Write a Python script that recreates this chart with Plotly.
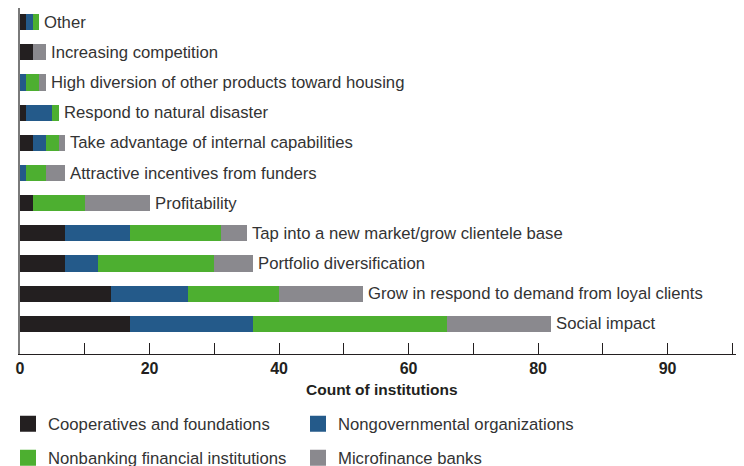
import plotly.graph_objects as go

categories = [
    "Social impact",
    "Grow in respond to demand from loyal clients",
    "Portfolio diversification",
    "Tap into a new market/grow clientele base",
    "Profitability",
    "Attractive incentives from funders",
    "Take advantage of internal capabilities",
    "Respond to natural disaster",
    "High diversion of other products toward housing",
    "Increasing competition",
    "Other",
]

cooperatives = [17, 14, 7, 7, 2, 0, 2, 1, 0, 2, 1]
ngos = [19, 12, 5, 10, 0, 1, 2, 4, 1, 0, 1]
nonbanking = [30, 14, 18, 14, 8, 3, 2, 1, 2, 0, 1]
microfinance = [16, 13, 6, 4, 10, 3, 1, 0, 1, 2, 0]

series = [
    ("Cooperatives and foundations", cooperatives, "#231f20", "legend"),
    ("Nongovernmental organizations", ngos, "#245a8a", "legend"),
    ("Nonbanking financial institutions", nonbanking, "#4daf30", "legend2"),
    ("Microfinance banks", microfinance, "#8a898e", "legend2"),
]

tick_vals = [0, 10, 20, 30, 40, 50, 60, 70, 80, 90, 100, 110]
tick_text = ["0", "", "20", "", "40", "", "60", "", "80", "", "90", ""]

FONT = "Liberation Sans, Arial, Helvetica, sans-serif"
TXT = "#333333"

# page body has an 8px default margin, so the figure is 8px smaller each way
W, H = 736, 458

fig = go.Figure()
for name, vals, color, lg in series:
    fig.add_trace(go.Bar(
        x=vals, y=categories, orientation="h", name=name,
        marker=dict(color=color, line=dict(width=0)),
        showlegend=False, hoverinfo="x+y+name",
    ))
# legend entries (square swatches)
for name, vals, color, lg in series:
    fig.add_trace(go.Scatter(
        x=[None], y=[None], mode="markers", name=name,
        marker=dict(symbol="square", size=16, color=color, line=dict(width=0)),
        legend=lg, showlegend=True,
    ))

totals = [a + b + c + d for a, b, c, d in zip(cooperatives, ngos, nonbanking, microfinance)]
for cat, tot in zip(categories, totals):
    fig.add_annotation(
        x=tot, y=cat, xref="x", yref="y", text=cat, showarrow=False,
        xanchor="left", yanchor="middle", xshift=3,
        font=dict(family=FONT, size=16.7, color=TXT),
    )

fig.add_annotation(
    x=0.5, y=0, xref="paper", yref="paper",
    text="<b>Count of institutions</b>", showarrow=False,
    xanchor="center", yanchor="middle", yshift=-35,
    font=dict(family=FONT, size=15.5, color="#231f20"),
)

legend_common = dict(
    orientation="h", xref="container", yref="container",
    xanchor="left", yanchor="middle", traceorder="normal",
    font=dict(family=FONT, size=16.7, color=TXT),
    entrywidth=245, entrywidthmode="pixels",
    bgcolor="rgba(0,0,0,0)", borderwidth=0,
    itemclick=False, itemdoubleclick=False,
)

fig.update_layout(
    width=W, height=H,
    margin=dict(l=12, r=0, t=0, b=112),
    paper_bgcolor="white", plot_bgcolor="white",
    barmode="stack", bargap=0.46,
    font=dict(family=FONT, color=TXT),
    xaxis=dict(
        range=[0, 111.8], tickmode="array", tickvals=tick_vals, ticktext=tick_text,
        ticks="inside", ticklen=11, tickwidth=1.3, tickcolor="#231f20",
        showline=True, linecolor="#231f20", linewidth=1.4,
        showgrid=False, zeroline=False,
        tickfont=dict(family=FONT, size=16, color="#231f20", weight="bold"),
    ),
    yaxis=dict(
        type="category", categoryorder="array", categoryarray=categories,
        range=[-1.0, 10.47], showticklabels=False, ticks="",
        showline=True, linecolor="#7a7a7a", linewidth=1.5,
        showgrid=False, zeroline=False,
    ),
    legend=dict(x=-6 / W, y=42 / H, **legend_common),
    legend2=dict(x=-6 / W, y=8 / H, **legend_common),
)

fig.write_html("out.html")
